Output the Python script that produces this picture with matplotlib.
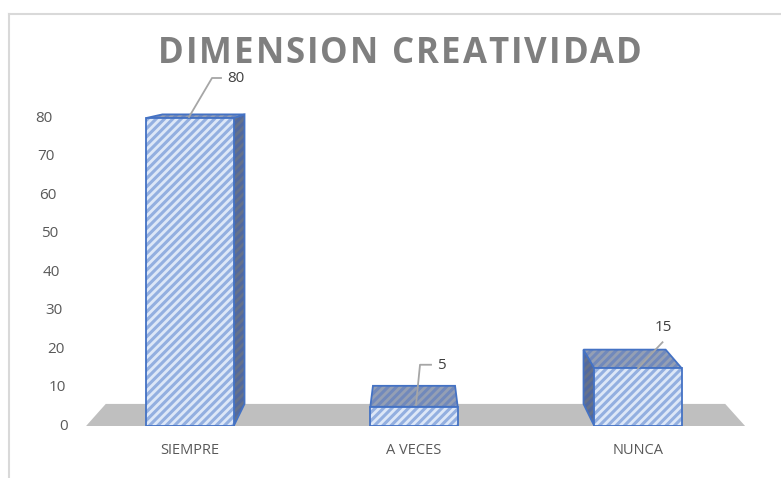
import matplotlib.pyplot as plt
from matplotlib.patches import Polygon
from matplotlib.lines import Line2D
from matplotlib.transforms import blended_transform_factory

categories = ['SIEMPRE', 'A VECES', 'NUNCA']
values = [80, 5, 15]
y_ticks = [0, 10, 20, 30, 40, 50, 60, 70, 80]
title = 'DIMENSION CREATIVIDAD'

plt.rcParams['font.family'] = ['Open Sans', 'DejaVu Sans']
plt.rcParams['hatch.linewidth'] = 2.2

# fake 3D view: back plane is the front plane shrunk toward a vanishing point
VX, VY, S = 1.0, 95.6, 0.94
W = 0.39


def proj(x, y):
    return (VX + (x - VX) * S, VY + (y - VY) * S)


def face(ax, pts, fc, hc, z):
    ax.add_patch(Polygon(pts, closed=True, facecolor=fc, edgecolor=hc, hatch='////',
                         linewidth=0, zorder=z))
    ax.add_patch(Polygon(pts, closed=True, facecolor='none', edgecolor='#4472c4',
                         linewidth=1.3, zorder=z + 0.1))


fig = plt.figure(figsize=(7.81, 4.78), dpi=100)
ax = fig.add_axes([60 / 781, 52 / 478, 700 / 781, 386 / 478])
ax.set_xlim(-0.5804, 2.5446)
ax.set_ylim(0, 100.26)
ax.axis('off')

# floor
xl, xr = -0.464, 2.478
floor = [(xl, 0), (xr, 0), proj(xr, 0), proj(xl, 0)]
ax.add_patch(Polygon(floor, closed=True, facecolor='#bfbfbf', edgecolor='none', zorder=1))

xs = list(range(len(categories)))
for x, v in zip(xs, values):
    l, r = x - W / 2, x + W / 2
    if r < VX:
        face(ax, [(r, 0), (r, v), proj(r, v), proj(r, 0)], '#65728c', '#52699e', 2)
    elif l > VX:
        face(ax, [(l, 0), (l, v), proj(l, v), proj(l, 0)], '#65728c', '#52699e', 2)
    face(ax, [(l, v), (r, v), proj(r, v), proj(l, v)], '#949fb4', '#7189bb', 3)

ax.bar(xs, values, width=W, color='#dde7f7', edgecolor='#93afe0', hatch='////',
       linewidth=0, zorder=4)
ax.bar(xs, values, width=W, color='none', edgecolor='#4472c4', linewidth=1.3, zorder=5)

# y tick labels, slanted with the view
ytrans = blended_transform_factory(fig.transFigure, ax.transData)
for t in y_ticks:
    xpx = 68 - 0.19 * t
    ax.text(xpx / 781, t, str(t), transform=ytrans, ha='right', va='center',
            fontsize=11, color='#595959')

for x, c in zip(xs, categories):
    ax.text(x, -6.4, c, ha='center', va='center', fontsize=10.5, color='#595959',
            clip_on=False)

# data labels with leader lines (offsets in pixels from bar top)
leaders = [
    [(-1, 1), (22, 40), (31, 40)],
    [(2, 2), (6, 42), (17, 42)],
    [(0, 0), (24.5, 26)],
]
label_off = [(37, 40, 'left'), (23, 41, 'left'), (25, 41, 'center')]
for x, v, pts, (dx, dy, ha) in zip(xs, values, leaders, label_off):
    bx, by = ax.transData.transform((x, v))
    line = Line2D([bx + p[0] for p in pts], [by + p[1] for p in pts], transform=None,
                  color='#a6a6a6', linewidth=1.3, zorder=6)
    fig.add_artist(line)
    fig.text((bx + dx) / 781, (by + dy) / 478, str(v), ha=ha, va='center',
             fontsize=11, color='#404040')

# title with wide letter spacing, laid out glyph by glyph
renderer = fig.canvas.get_renderer()
tracking = 2.0
parts = []
for ch in title:
    t = fig.text(0, 1 - 54 / 478, ch, ha='left', va='center', fontsize=25,
                 fontweight='bold', color='#7f7f7f')
    parts.append((t, t.get_window_extent(renderer).width if ch != ' ' else 10.0))
total = sum(w for _, w in parts) + tracking * (len(parts) - 1)
xpos = 400 - total / 2
for t, w in parts:
    t.set_x(xpos / 781)
    xpos += w + tracking

# chart frame
fig.add_artist(Line2D([9 / 781, 9 / 781], [0, 1 - 14 / 478], transform=fig.transFigure,
                      color='#d9d9d9', linewidth=1.5))
fig.add_artist(Line2D([9 / 781, 1], [1 - 14 / 478, 1 - 14 / 478], transform=fig.transFigure,
                      color='#d9d9d9', linewidth=1.5))

fig.savefig('out.png', dpi=100)
